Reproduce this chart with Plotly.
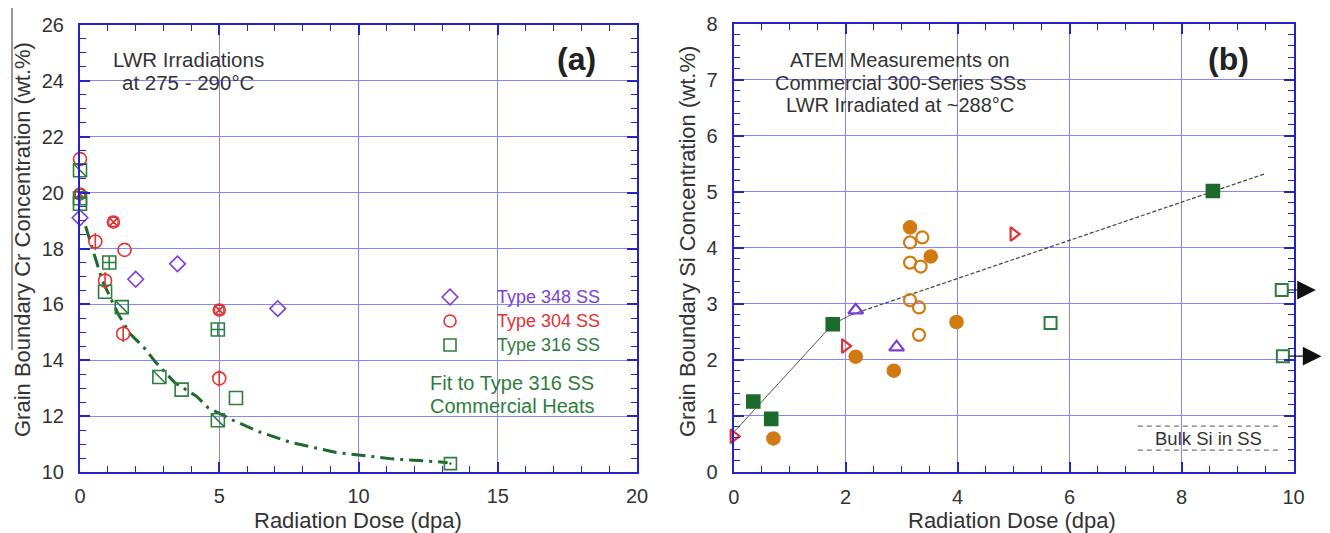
import plotly.graph_objects as go

# ---------------- Panel (a) data: Grain boundary Cr ----------------
t348_x = [0.0, 2.0, 3.5, 7.1]
t348_y = [19.1, 16.9, 17.45, 15.85]

t304_plain_x = [0.0, 1.6]
t304_plain_y = [21.2, 17.95]
t304_bar_x = [0.55, 0.9, 1.55, 5.0]
t304_bar_y = [18.25, 16.85, 14.95, 13.35]
t304_x_x = [1.2, 5.0, 0.0]
t304_x_y = [18.95, 15.8, 19.95]

t316_plain_x = [0.0, 0.9, 3.65, 5.6]
t316_plain_y = [19.6, 16.45, 12.95, 12.65]
t316_slash_x = [0.0, 1.5, 2.85, 4.95]
t316_slash_y = [20.8, 15.9, 13.4, 11.85]
t316_cross_x = [0.0, 1.05, 4.95]
t316_cross_y = [19.8, 17.5, 15.1]
t316_dot_x = [13.3]
t316_dot_y = [10.3]

fit_x = [0.2, 0.8, 1.4, 1.8, 2.3, 2.7, 3.4, 4.2, 4.6, 5.5, 6.4, 7.6, 9.2, 11.2, 12.8, 13.2]
fit_y = [18.8, 16.85, 15.6, 14.95, 14.45, 13.95, 13.2, 12.7, 12.3, 11.85, 11.45, 11.05, 10.7, 10.47, 10.37, 10.33]

a_xticks = [0, 5, 10, 15, 20]
a_yticks = [10, 12, 14, 16, 18, 20, 22, 24, 26]

# ---------------- Panel (b) data: Grain boundary Si ----------------
g_fill_x = [0.35, 0.67, 1.77, 8.56]
g_fill_y = [1.25, 0.94, 2.63, 5.01]
g_open_x = [5.66, 9.79, 9.81]
g_open_y = [2.65, 3.24, 2.06]
red_tri_x = [0.0, 1.99, 5.0]
red_tri_y = [0.63, 2.24, 4.24]
pur_tri_x = [2.18, 2.91]
pur_tri_y = [2.88, 2.22]
or_fill_x = [0.71, 2.18, 2.86, 3.98, 3.52, 3.15]
or_fill_y = [0.59, 2.05, 1.8, 2.67, 3.84, 4.36]
or_open_x = [3.15, 3.31, 3.31, 3.15, 3.34, 3.15, 3.37]
or_open_y = [3.06, 2.93, 2.44, 3.73, 3.66, 4.09, 4.18]

trend1_x = [0.0, 1.77, 2.1]
trend1_y = [0.7, 2.63, 2.8]
trend2_x = [2.1, 9.5]
trend2_y = [2.8, 5.32]

arrow_tail_x = [9.88, 9.9]
arrow_head_x = [10.4, 10.5]
arrow_y = [3.24, 2.06]

bulk_x = [7.22, 9.72]
bulk_lo = 0.38
bulk_hi = 0.81

b_xticks = [0, 2, 4, 6, 8, 10]
b_yticks = [0, 1, 2, 3, 4, 5, 6, 7, 8]

# ---------------- styling ----------------
W, H = 1330, 533
OFF = 8  # page body margin of the html page
FONT = "Liberation Sans, Arial, sans-serif"
PURPLE = "#7a3fd8"
RED = "#e23232"
GREEN = "#2f7d3c"
DKGREEN = "#1d6a2d"
ORANGE = "#d27a12"
AXIS = "#2323c8"
GRID = "#8585ff"
TXT = "#333333"

# panel pixel frames in the screenshot (left, right, top, bottom)
A_L, A_R, A_T, A_B = 80, 637, 25, 472
B_L, B_R, B_T, B_B = 733.7, 1293.5, 23.5, 471.5


def px(x):
    return (x - OFF) / W


def py(y):
    return 1 - (y - OFF) / H


def a_data_x(pix):
    return (pix - A_L) / (A_R - A_L) * 20


def a_data_y(pix):
    return 26 - (pix - A_T) / (A_B - A_T) * 16


fig = go.Figure()


def sc(x, y, symbol, color, size, xa="x", ya="y", width=1.6, fill=None):
    fig.add_trace(go.Scatter(
        x=x, y=y, mode="markers", xaxis=xa, yaxis=ya,
        showlegend=False, cliponaxis=False,
        marker=dict(symbol=symbol, size=size,
                    color=fill if fill else color,
                    line=dict(color=color, width=width))))


# fit curve
fig.add_trace(go.Scatter(x=fit_x, y=fit_y, mode="lines", showlegend=False,
                         line=dict(color=DKGREEN, width=3, dash="14px,6px,3px,6px"),
                         xaxis="x", yaxis="y"))

# panel (a) markers
sc(t348_x, t348_y, "diamond-open", PURPLE, 12)
sc(t304_plain_x, t304_plain_y, "circle-open", RED, 13)
sc(t304_bar_x, t304_bar_y, "circle-open", RED, 13)
sc(t304_bar_x, t304_bar_y, "line-ns-open", RED, 12)
sc(t304_x_x, t304_x_y, "circle-x-open", RED, 12)
sc(t304_x_x, t304_x_y, "square-x-open", RED, 9, width=1.2)
sc(t316_plain_x, t316_plain_y, "square-open", GREEN, 13)
sc(t316_slash_x, t316_slash_y, "square-open", GREEN, 13)
sc(t316_slash_x, t316_slash_y, "line-nw-open", GREEN, 12)
sc(t316_cross_x, t316_cross_y, "square-cross-open", GREEN, 13)
sc(t316_dot_x, t316_dot_y, "square-open-dot", GREEN, 12)

# legend glyphs (placed at fixed page spots, converted into panel (a) units)
leg_pix_y = [297, 321, 345]
fig.add_trace(go.Scatter(x=[a_data_x(450)] * 3, y=[a_data_y(v) for v in leg_pix_y],
                         mode="markers", xaxis="x", yaxis="y", showlegend=False, cliponaxis=False,
                         marker=dict(symbol=["diamond-open", "circle-open", "square-open"], size=12,
                                     color=[PURPLE, RED, GREEN],
                                     line=dict(color=[PURPLE, RED, GREEN], width=1.6))))

# panel (b) lines
fig.add_trace(go.Scatter(x=trend1_x, y=trend1_y, mode="lines", showlegend=False,
                         line=dict(color="#555555", width=1), xaxis="x2", yaxis="y2"))
fig.add_trace(go.Scatter(x=trend2_x, y=trend2_y, mode="lines", showlegend=False,
                         line=dict(color="#444444", width=1.2, dash="4px,2px"),
                         xaxis="x2", yaxis="y2"))
for yv in (bulk_lo, bulk_hi):
    fig.add_trace(go.Scatter(x=bulk_x, y=[yv, yv], mode="lines", showlegend=False,
                             line=dict(color="#777777", width=1.2, dash="5px,4px"),
                             xaxis="x2", yaxis="y2"))

# panel (b) markers
sc(g_fill_x, g_fill_y, "square", DKGREEN, 13, "x2", "y2", fill=DKGREEN)
sc(g_open_x, g_open_y, "square-open", GREEN, 12, "x2", "y2", width=2)
sc(red_tri_x, red_tri_y, "triangle-right-open", RED, 12, "x2", "y2", width=2.2)
sc(pur_tri_x, pur_tri_y, "triangle-up-open", PURPLE, 13, "x2", "y2", width=2.2)
sc(or_fill_x, or_fill_y, "circle", ORANGE, 13, "x2", "y2", fill=ORANGE)
sc(or_open_x, or_open_y, "circle-open", ORANGE, 12, "x2", "y2", width=2.2)


def axis_common(domain, rng, ticks, minor_dtick, anchor, standoff):
    return dict(domain=domain, range=rng, tickvals=ticks, ticktext=[str(t) for t in ticks],
                showline=True, linecolor=AXIS, linewidth=2, mirror="ticks",
                ticks="inside", ticklen=10, tickwidth=1.5, tickcolor=AXIS,
                showgrid=True, gridcolor=GRID, gridwidth=1.3, zeroline=False,
                anchor=anchor, fixedrange=True, automargin=False,
                ticklabelstandoff=standoff,
                tickfont=dict(family=FONT, size=20, color=TXT),
                minor=dict(dtick=minor_dtick, ticks="inside", ticklen=6, tickwidth=1.3,
                           tickcolor=AXIS, showgrid=False))


fig.update_layout(
    width=W, height=H, margin=dict(l=0, r=0, t=0, b=0, pad=0, autoexpand=False),
    paper_bgcolor="white", plot_bgcolor="white", showlegend=False,
    xaxis=axis_common([px(A_L), px(A_R)], [0, 20], a_xticks, 1, "y", 5),
    yaxis=axis_common([py(A_B), py(A_T)], [10, 26], a_yticks, 0.5, "x", 10),
    xaxis2=axis_common([px(B_L), px(B_R)], [0, 10], b_xticks, 0.5, "y2", 6),
    yaxis2=axis_common([py(B_B), py(B_T)], [0, 8], b_yticks, 0.2, "x2", 10),
)

shapes = []
# white boxes hiding the grid behind text
for (x0, y0, x1, y1) in [(110, 27, 268, 97), (398, 273, 617, 453), (770, 25, 1032, 122)]:
    shapes.append(dict(type="rect", xref="paper", yref="paper", x0=px(x0), x1=px(x1),
                       y0=py(y1), y1=py(y0), fillcolor="white", line=dict(width=0), layer="between"))
# thin scan edge line at far left
shapes.append(dict(type="line", xref="paper", yref="paper", x0=px(12), x1=px(12),
                   y0=py(350), y1=py(OFF), line=dict(color="#333333", width=1)))
fig.update_layout(shapes=shapes)

ann = []


def txt(text, x, y, size=20, color=TXT, xanchor="center", bold=False, angle=0):
    ann.append(dict(text=("<b>%s</b>" % text) if bold else text, x=px(x), y=py(y),
                    xref="paper", yref="paper", showarrow=False, xanchor=xanchor,
                    yanchor="middle", textangle=angle,
                    font=dict(family=FONT, size=size, color=color)))


txt("LWR Irradiations", 188, 60, 20.5)
txt("at 275 - 290°C", 188, 83, 20.5)
txt("(a)", 576, 59, 32, "#222222", bold=True)
txt("Type 348 SS", 495, 297, 18, PURPLE, xanchor="left")
txt("Type 304 SS", 495, 321, 18, RED, xanchor="left")
txt("Type 316 SS", 495, 345, 18, GREEN, xanchor="left")
txt("Fit to Type 316 SS", 512, 383, 20, GREEN)
txt("Commercial Heats", 512, 406, 20, GREEN)
txt("Grain Boundary Cr Concentration (wt.%)", 22, 240, 22, angle=-90)
txt("Radiation Dose (dpa)", 358, 520, 22)

txt("ATEM Measurements on", 900, 60, 20)
txt("Commercial 300-Series SSs", 900, 83, 20)
txt("LWR Irradiated at ~288°C", 900, 105, 20)
txt("(b)", 1228, 59, 32, "#222222", bold=True)
txt("Grain Boundary Si Concentration (wt.%)", 688, 242, 22, angle=-90)
txt("Radiation Dose (dpa)", 1012, 520, 22)
txt("Bulk Si in SS", 1208, 438, 18.5)

# arrows in panel (b)
for tx, hx, yv in zip(arrow_tail_x, arrow_head_x, arrow_y):
    ann.append(dict(x=hx, y=yv, ax=tx, ay=yv, xref="x2", yref="y2", axref="x2", ayref="y2",
                    showarrow=True, arrowhead=2, arrowsize=3.4, arrowwidth=1.1,
                    arrowcolor="#111111", text=""))

fig.update_layout(annotations=ann)

fig.write_html("out.html")
